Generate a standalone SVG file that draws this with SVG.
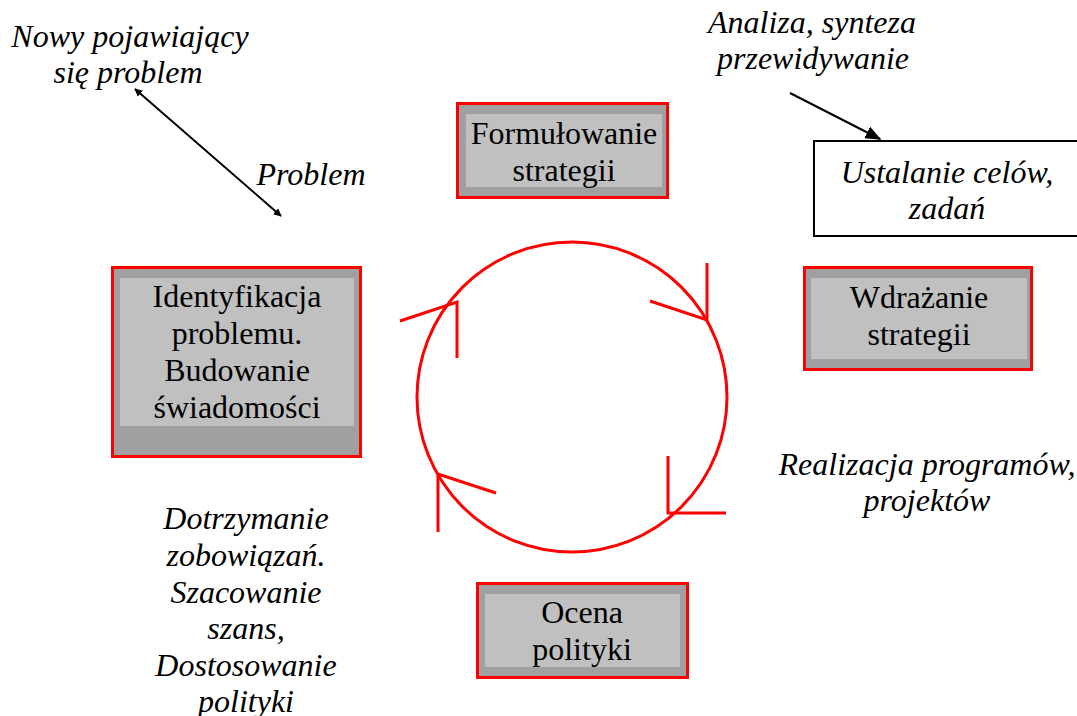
<svg xmlns="http://www.w3.org/2000/svg" width="1077" height="716" viewBox="0 0 1077 716">
<defs>
<style>
.outer{fill:#a0a0a0;stroke:#ff0000;stroke-width:3}
.inner{fill:#c0c0c0;stroke:none}
.t{font-family:'Times New Roman','Liberation Serif',Tinos,'Nimbus Roman','DejaVu Serif',serif;font-size:32px;fill:#000;text-anchor:middle}
.i{font-style:italic}
.red{fill:none;stroke:#ff0000;stroke-width:3}
.blk{fill:none;stroke:#000;stroke-width:2}
</style>
<marker id="ah" viewBox="0 0 10 10" refX="9" refY="5" markerWidth="8" markerHeight="8" markerUnits="userSpaceOnUse" orient="auto-start-reverse">
<path d="M0,0 L10,5 L0,10 z" fill="#000"/>
</marker>
<marker id="ah2" viewBox="0 0 10 10" refX="9" refY="5" markerWidth="16" markerHeight="16" markerUnits="userSpaceOnUse" orient="auto">
<path d="M0,1 L10,5 L0,9 z" fill="#000"/>
</marker>
</defs>
<rect width="1077" height="716" fill="#fff"/>

<g id="connectors">
<circle class="red" cx="572" cy="397" r="155"/>
<path class="red" d="M400,321 L457,302 L457,358"/>
<path class="red" d="M707,263 L707,320 L650,301"/>
<path class="red" d="M668,456 L668,513 L726,513"/>
<path class="red" d="M438,532 L438,474 L496,493"/>
<line class="blk" x1="135" y1="89" x2="281" y2="216" marker-start="url(#ah)" marker-end="url(#ah)"/>
<line class="blk" x1="790" y1="93" x2="880" y2="139" marker-end="url(#ah2)"/>
</g>

<g id="node-identyfikacja">
<rect class="outer" x="112.5" y="267.5" width="248" height="189"/>
<rect class="inner" x="120" y="278" width="234" height="148"/>
<text class="t" x="237" y="307">Identyfikacja</text>
<text class="t" x="237" y="344">problemu.</text>
<text class="t" x="237" y="381">Budowanie</text>
<text class="t" x="237" y="418">świadomości</text>
</g>

<g id="node-formulowanie">
<rect class="outer" x="457.5" y="103.5" width="210" height="94"/>
<rect class="inner" x="466" y="114" width="196" height="73"/>
<text class="t" x="564" y="144">Formułowanie</text>
<text class="t" x="564" y="181">strategii</text>
</g>

<g id="node-wdrazanie">
<rect class="outer" x="804.5" y="267.5" width="227" height="102"/>
<rect class="inner" x="811" y="278" width="216" height="81"/>
<text class="t" x="919" y="308">Wdrażanie</text>
<text class="t" x="919" y="345">strategii</text>
</g>

<g id="node-ocena">
<rect class="outer" x="477.5" y="583.5" width="210" height="94"/>
<rect class="inner" x="485" y="594" width="195" height="73"/>
<text class="t" x="582" y="623">Ocena</text>
<text class="t" x="582" y="660">polityki</text>
</g>

<g id="node-ustalanie">
<rect x="814" y="141" width="280" height="95" fill="#fff" stroke="#000" stroke-width="2"/>
<text class="t i" x="947" y="183">Ustalanie celów,</text>
<text class="t i" x="947" y="219">zadań</text>
</g>

<g id="label-nowy">
<text class="t i" x="130" y="47">Nowy pojawiający</text>
<text class="t i" x="128" y="83">się problem</text>
</g>
<g id="label-problem">
<text class="t i" x="311" y="185">Problem</text>
</g>
<g id="label-analiza">
<text class="t i" x="812" y="33">Analiza, synteza</text>
<text class="t i" x="813" y="69">przewidywanie</text>
</g>
<g id="label-realizacja">
<text class="t i" x="927" y="475">Realizacja programów,</text>
<text class="t i" x="927" y="511">projektów</text>
</g>
<g id="label-dotrzymanie">
<text class="t i" x="246" y="529">Dotrzymanie</text>
<text class="t i" x="246" y="566">zobowiązań.</text>
<text class="t i" x="246" y="603">Szacowanie</text>
<text class="t i" x="246" y="639">szans,</text>
<text class="t i" x="246" y="676">Dostosowanie</text>
<text class="t i" x="246" y="712">polityki</text>
</g>
</svg>
